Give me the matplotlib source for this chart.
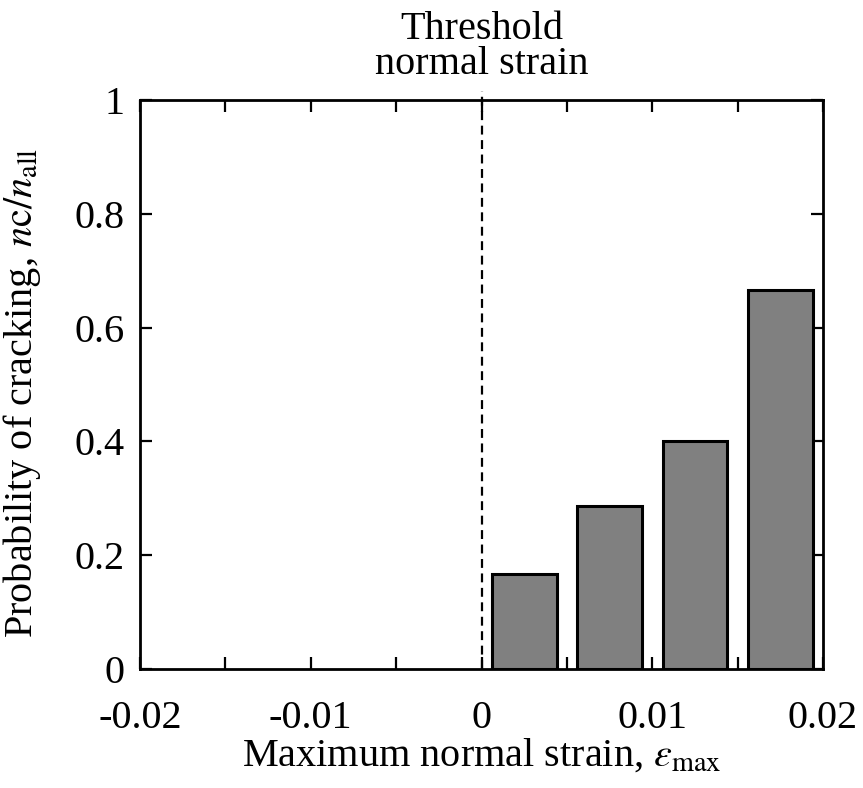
import matplotlib
matplotlib.use("Agg")
import matplotlib.pyplot as plt
from matplotlib.ticker import MultipleLocator, FuncFormatter

# bin centres (maximum normal strain) and crack probability nc/nall
strain_bins = [0.0025, 0.0075, 0.0125, 0.0175]
prob_crack = [0.167, 0.286, 0.400, 0.667]
bar_width = 0.0038
threshold = 0.0

plt.rcParams["font.family"] = "Liberation Serif"
plt.rcParams["mathtext.fontset"] = "stix"
plt.rcParams["font.size"] = 29

fig = plt.figure(figsize=(8.63, 7.88), dpi=100)
ax = fig.add_axes([0.1622, 0.151, 0.7915, 0.722])

ax.bar(strain_bins, prob_crack, width=bar_width, color="#808080",
       edgecolor="black", linewidth=2.2, zorder=3)

# dashed threshold line, running up past the frame to the label
ax.plot([threshold, threshold], [0, 1.016], color="black", linestyle=(0, (4, 2.5)),
        linewidth=1.6, clip_on=False, zorder=4)
ax.text(threshold, 1.03, "Threshold\nnormal strain", ha="center", va="bottom",
        linespacing=0.92)

ax.set_xlim(-0.02, 0.02)
ax.set_ylim(0, 1)
ax.xaxis.set_major_locator(MultipleLocator(0.01))
ax.xaxis.set_minor_locator(MultipleLocator(0.005))
ax.yaxis.set_major_locator(MultipleLocator(0.2))


def fmt(v, pos):
    if abs(v) < 1e-12:
        return "0"
    return f"{v:.2f}".rstrip("0").rstrip(".")


ax.xaxis.set_major_formatter(FuncFormatter(fmt))
ax.yaxis.set_major_formatter(FuncFormatter(fmt))

ax.tick_params(which="both", direction="in", top=True, right=True, width=1.6)
ax.tick_params(which="major", length=8.5)
ax.tick_params(which="minor", length=8.5)
ax.tick_params(axis="x", which="major", pad=22)
ax.tick_params(axis="y", which="major", pad=11)
for sp in ax.spines.values():
    sp.set_linewidth(2.0)

ax.set_xlabel(r"Maximum normal strain, $\varepsilon_{\mathrm{max}}$", labelpad=0)
ax.set_ylabel(r"Probability of cracking, $n\mathrm{c}/n_{\mathrm{all}}$")
ax.yaxis.set_label_coords(-0.142, 0.485)

fig.savefig("out.png", dpi=100)
